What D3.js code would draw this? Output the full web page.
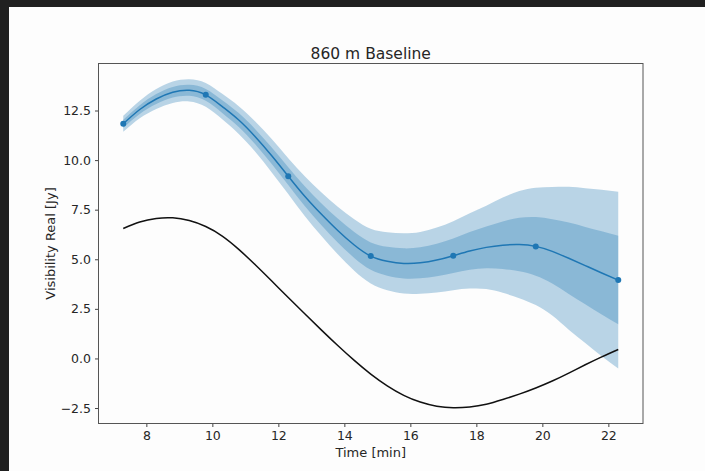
<!DOCTYPE html>
<html lang="en">

<head>
    <meta charset="UTF-8">
    <title>860 m Baseline</title>
    <script src="https://d3js.org/d3.v7.min.js"></script>
    <style type="text/css">
        body {
            margin: 0;
            background-color: #202020;
        }

        text {
            font-family: "DejaVu Sans", sans-serif;
            fill: #262626;
        }
    </style>
</head>

<body>
    <div id="chartArea"></div>
    <script type="text/javascript">
        // sample times of the GP prediction [min]
        var times = [7.3, 7.8, 8.3, 8.8, 9.3, 9.8, 10.3, 10.8, 11.3, 11.8, 12.3, 12.8, 13.3, 13.8, 14.3,
            14.8, 15.3, 15.8, 16.3, 16.8, 17.3, 17.8, 18.3, 18.8, 19.3, 19.8, 20.3, 20.8, 21.3, 21.8, 22.3];
        // predicted mean and 1-sigma
        var meanVis = [11.83, 12.55, 13.08, 13.42, 13.52, 13.29, 12.70, 12.02, 11.18, 10.22, 9.19, 8.18, 7.28, 6.45, 5.72,
            5.16, 4.90, 4.79, 4.82, 4.96, 5.18, 5.42, 5.60, 5.71, 5.74, 5.65, 5.40, 5.05, 4.68, 4.31, 3.95];
        var stdVis = [0.20, 0.22, 0.25, 0.27, 0.28, 0.30, 0.32, 0.35, 0.38, 0.42, 0.45, 0.50, 0.55, 0.60, 0.65,
            0.69, 0.73, 0.76, 0.78, 0.82, 0.87, 0.95, 1.05, 1.20, 1.35, 1.48, 1.62, 1.80, 1.95, 2.10, 2.23];
        // true model visibility
        var modelVis = [6.55, 6.88, 7.06, 7.09, 6.95, 6.65, 6.17, 5.50, 4.72, 3.90, 3.07, 2.25, 1.44, 0.65, -0.10,
            -0.79, -1.38, -1.86, -2.20, -2.41, -2.49, -2.45, -2.31, -2.07, -1.80, -1.49, -1.14, -0.74, -0.32, 0.08, 0.45];
        // observations
        var obsTimes = [7.3, 9.8, 12.3, 14.8, 17.3, 19.8, 22.3];
        var obsVis = [11.83, 13.29, 9.19, 5.16, 5.18, 5.65, 3.95];

        var xTicks = [8, 10, 12, 14, 16, 18, 20, 22];
        var yTicks = [-2.5, 0, 2.5, 5, 7.5, 10, 12.5];

        var W = 705, H = 471;
        var margin = { top: 63.5, right: 62, bottom: 47.5, left: 98.5 };
        var w = W - margin.left - margin.right,
            h = H - margin.top - margin.bottom;

        var svg = d3.select('#chartArea').append('svg')
            .attr('width', W)
            .attr('height', H)
            .style('display', 'block');

        // figure background (screenshot has dark strip top/left)
        svg.append('rect')
            .attr('x', 9).attr('y', 7)
            .attr('width', W - 9).attr('height', H - 7)
            .attr('fill', '#fdfdfd');

        var g = svg.append('g')
            .attr('transform', 'translate(' + margin.left + ', ' + margin.top + ')');

        var xScale = d3.scaleLinear()
            .domain([6.55, 23.05])
            .range([0, w]);

        var yScale = d3.scaleLinear()
            .domain([-3.28, 14.87])
            .range([h, 0]);

        var rows = times.map(function (t, i) {
            return { t: t, m: meanVis[i], s: stdVis[i], v: modelVis[i] };
        });

        function band(k) {
            return d3.area()
                .x(function (d) { return xScale(d.t); })
                .y0(function (d) { return yScale(d.m - k * d.s); })
                .y1(function (d) { return yScale(d.m + k * d.s); })
                .curve(d3.curveNatural);
        }

        g.append('path')
            .datum(rows)
            .attr('d', band(2))
            .attr('fill', '#1f77b4')
            .attr('fill-opacity', 0.3);

        g.append('path')
            .datum(rows)
            .attr('d', band(1))
            .attr('fill', '#1f77b4')
            .attr('fill-opacity', 0.3);

        var meanLine = d3.line()
            .x(function (d) { return xScale(d.t); })
            .y(function (d) { return yScale(d.m); })
            .curve(d3.curveNatural);

        var modelLine = d3.line()
            .x(function (d) { return xScale(d.t); })
            .y(function (d) { return yScale(d.v); })
            .curve(d3.curveNatural);

        g.append('path')
            .datum(rows)
            .attr('d', meanLine)
            .attr('fill', 'none')
            .attr('stroke', '#1f77b4')
            .attr('stroke-width', 1.5);

        g.append('path')
            .datum(rows)
            .attr('d', modelLine)
            .attr('fill', 'none')
            .attr('stroke', '#111')
            .attr('stroke-width', 1.5);

        g.selectAll('circle.obs')
            .data(obsTimes)
            .enter()
            .append('circle')
            .attr('class', 'obs')
            .attr('cx', function (d) { return xScale(d); })
            .attr('cy', function (d, i) { return yScale(obsVis[i]); })
            .attr('r', 3)
            .attr('fill', '#1f77b4');

        // axes
        var fmtY = function (d) { return d3.format('.1f')(d).replace('-', '\u2212'); };

        var xAxis = g.append('g')
            .attr('transform', 'translate(0,' + h + ')')
            .call(d3.axisBottom(xScale).tickValues(xTicks).tickSize(3.5).tickPadding(4).tickFormat(d3.format('d')));

        var yAxis = g.append('g')
            .call(d3.axisLeft(yScale).tickValues(yTicks).tickSize(3.5).tickPadding(4).tickFormat(fmtY));

        [xAxis, yAxis].forEach(function (ax) {
            ax.select('.domain').remove();
            ax.selectAll('line').attr('stroke', '#444');
            ax.selectAll('text')
                .style('font-family', '"DejaVu Sans", sans-serif')
                .style('font-size', '12.5px')
                .attr('fill', '#262626');
        });

        g.append('rect')
            .attr('width', w)
            .attr('height', h)
            .attr('fill', 'none')
            .attr('stroke', '#555')
            .attr('stroke-width', 1);

        svg.append('text')
            .attr('x', margin.left + w / 2)
            .attr('y', 58.5)
            .attr('text-anchor', 'middle')
            .style('font-size', '15.5px')
            .text('860 m Baseline');

        svg.append('text')
            .attr('x', margin.left + w / 2)
            .attr('y', 457)
            .attr('text-anchor', 'middle')
            .style('font-size', '13px')
            .text('Time [min]');

        svg.append('text')
            .attr('transform', 'translate(55,' + (margin.top + h / 2) + ') rotate(-90)')
            .attr('text-anchor', 'middle')
            .style('font-size', '13px')
            .text('Visibility Real [Jy]');
    </script>
</body>

</html>
